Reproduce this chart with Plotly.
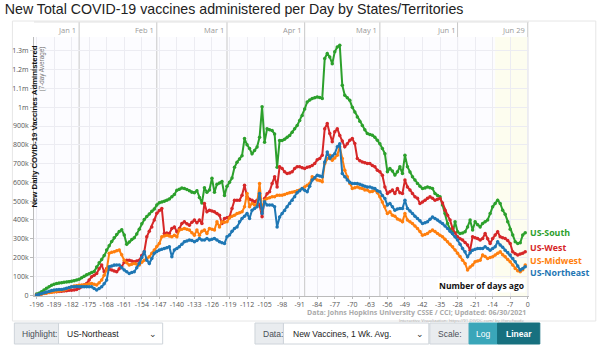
import plotly.graph_objects as go

# Days before the latest report (Jun 29, 2021)
days = list(range(-196, 1))

# 7-day average of new vaccine doses administered, thousands per day
us_south = [
    5, 10, 18, 27, 36, 44, 52,
    58, 62, 64, 66, 68, 70, 71,
    74, 76, 80, 84, 92, 100, 108,
    114, 120, 126, 150, 172, 190, 210,
    240, 262, 285, 305, 322, 338, 348,
    320, 270, 282, 296, 305, 325, 350,
    380, 402, 418, 432, 446, 458, 480,
    492, 496, 500, 505, 512, 524, 535,
    558, 564, 570, 568, 562, 555, 548,
    545, 556, 520, 490, 572, 548, 560,
    622, 548, 590, 596, 605, 530, 579,
    600, 623, 680, 707, 725, 742, 833,
    800, 780, 752, 770, 788, 840, 1002,
    814, 885, 880, 876, 858, 680, 823,
    823, 830, 840, 850, 867, 885, 903,
    930, 956, 990, 1028, 1038, 1046, 1050,
    1055, 1052, 1046, 1259, 1286, 1268, 1232,
    1295, 1321, 1330, 1117, 1064, 1050, 1037,
    1000, 975, 948, 925, 903, 880, 860,
    855, 851, 840, 824, 806, 780, 753,
    656, 674, 660, 639, 656, 683, 647,
    744, 683, 655, 630, 612, 594, 580,
    567, 570, 576, 572, 567, 541, 530,
    523, 480, 434, 381, 350, 328, 390,
    337, 328, 330, 337, 363, 399, 346,
    390, 375, 363, 381, 390, 400, 434,
    470, 488, 505, 488, 452, 430, 390,
    350, 320, 284, 275, 278, 320, 332,
]
us_west = [
    0, 3, 6, 9, 12, 14, 16,
    17, 18, 19, 20, 22, 23, 25,
    26, 27, 30, 36, 44, 53, 62,
    80, 98, 106, 115, 140, 160, 124,
    142, 138, 133, 128, 124, 140, 151,
    175, 186, 186, 182, 177, 182, 186,
    210, 231, 310, 340, 363, 400, 435,
    450, 461, 328, 330, 328, 354, 363,
    337, 354, 381, 390, 380, 372, 388,
    399, 385, 399, 381, 488, 443, 452,
    448, 443, 434, 425, 381, 408, 412,
    416, 461, 505, 505, 505, 532, 585,
    523, 510, 505, 497, 505, 479, 417,
    514, 540, 550, 594, 630, 576, 683,
    674, 656, 647, 650, 656, 674, 683,
    683, 678, 674, 680, 683, 690, 700,
    720, 727, 745, 886, 913, 860, 816,
    869, 886, 850, 820, 789, 805, 824,
    833, 807, 727, 715, 709, 705, 700,
    700, 690, 683, 665, 656, 638, 576,
    541, 550, 559, 541, 567, 545, 541,
    612, 576, 560, 541, 523, 515, 488,
    495, 505, 515, 523, 515, 505, 510,
    514, 490, 452, 425, 399, 355, 330,
    310, 300, 293, 280, 266, 239, 310,
    305, 301, 293, 301, 328, 300, 275,
    301, 320, 337, 310, 305, 301, 290,
    275, 230, 220, 213, 218, 222, 230,
]
us_midwest = [
    0, 2, 5, 8, 11, 13, 15,
    17, 19, 22, 25, 27, 32, 38,
    44, 48, 50, 52, 53, 54, 56,
    60, 62, 58, 53, 65, 80, 105,
    133, 222, 228, 231, 236, 240, 215,
    186, 172, 160, 164, 168, 164, 160,
    175, 186, 195, 204, 222, 240, 258,
    275, 310, 315, 319, 314, 310, 319,
    310, 346, 350, 354, 350, 346, 332,
    319, 346, 319, 340, 346, 328, 355,
    350, 346, 390, 363, 390, 388, 390,
    410, 420, 425, 434, 438, 443, 470,
    541, 470, 488, 479, 485, 594, 452,
    505, 514, 518, 523, 523, 532, 532,
    532, 535, 541, 545, 548, 550, 556,
    560, 567, 575, 585, 594, 630, 620,
    612, 610, 603, 700, 727, 745, 718,
    730, 745, 789, 727, 665, 630, 594,
    567, 572, 576, 570, 567, 560, 559,
    550, 552, 559, 545, 523, 495, 470,
    434, 443, 425, 420, 405, 399, 390,
    434, 399, 390, 381, 368, 355, 338,
    319, 322, 328, 338, 346, 338, 328,
    318, 310, 297, 284, 270, 257, 240,
    222, 205, 186, 168, 133, 150, 160,
    177, 182, 186, 213, 205, 195, 200,
    204, 213, 222, 230, 215, 204, 190,
    177, 160, 142, 130, 124, 135, 160,
]
us_northeast = [
    0, 4, 8, 12, 16, 20, 24,
    27, 28, 29, 30, 32, 36, 40,
    44, 44, 45, 44, 44, 44, 44,
    44, 44, 35, 27, 35, 44, 60,
    80, 151, 155, 160, 160, 160, 145,
    133, 124, 115, 120, 124, 145, 168,
    200, 231, 186, 168, 195, 222, 232,
    240, 244, 248, 252, 257, 204, 240,
    248, 257, 270, 284, 288, 293, 290,
    284, 290, 301, 293, 293, 301, 293,
    297, 301, 293, 284, 278, 275, 310,
    320, 340, 355, 363, 390, 408, 420,
    434, 408, 452, 461, 470, 541, 434,
    497, 479, 479, 479, 470, 363, 416,
    434, 450, 470, 488, 505, 523, 545,
    556, 567, 558, 550, 580, 612, 625,
    638, 634, 630, 709, 762, 727, 740,
    753, 789, 806, 647, 630, 612, 600,
    594, 594, 594, 590, 585, 580, 576,
    576, 570, 567, 555, 550, 530, 514,
    479, 488, 470, 452, 458, 461, 461,
    505, 461, 448, 434, 420, 408, 395,
    381, 385, 390, 403, 416, 408, 399,
    390, 381, 368, 355, 340, 328, 310,
    293, 270, 248, 230, 204, 225, 239,
    244, 248, 248, 248, 257, 248, 239,
    248, 257, 284, 266, 255, 239, 226,
    213, 195, 177, 155, 133, 142, 151,
]

regions = ["US-South", "US-West", "US-Midwest", "US-Northeast"]
series = [us_south, us_west, us_midwest, us_northeast]
colors = ["#2ca02c", "#d62728", "#ff7f0e", "#1f77b4"]
# vertical nudges (px) that keep the end labels from colliding
label_shift = [0, 3.5, 4.5, -6.5]

# Month boundaries as days-ago offsets, with their labels on the top band
month_days = [-179, -148, -120, -89, -59, -28, 0]
month_labels = ["Jan 1", "Feb 1", "Mar 1", "Apr 1", "May 1", "Jun 1", "Jun 29"]

y_ticks = [i * 100 for i in range(14)]
y_tick_text = ["0"] + [f"{v}k" for v in range(100, 1000, 100)] + ["1m", "1.1m", "1.2m", "1.3m"]
x_ticks = list(range(-196, 1, 7))

TICK_FONT = "Open Sans"

# pixel helpers for paper coordinates (plot area: x 25..529, y 37..296)
def px(x):
    return (x - 25) / 504

def py(y):
    return (296 - y) / 259

fig = go.Figure()

for name, vals, col, dy in zip(regions, series, colors, label_shift):
    fig.add_trace(go.Scatter(
        x=days, y=vals, name=name, mode="lines+markers",
        line=dict(color=col, width=2),
        marker=dict(color=col, size=3.5),
        hoverinfo="skip",
    ))
    fig.add_annotation(
        x=days[-1], y=vals[-1], xref="x", yref="y",
        text=f"<b>{name}</b>", showarrow=False, borderpad=0,
        xanchor="left", yanchor="middle", xshift=1, yshift=dy,
        font=dict(family="Open Sans", size=8.8, color=col),
    )

shapes = []
# outer frame of the chart panel
shapes.append(dict(type="rect", xref="paper", yref="paper", x0=px(3), x1=px(597),
                   y0=py(321), y1=py(21), line=dict(color="#e6e6e6", width=1),
                   fillcolor="rgba(0,0,0,0)", layer="below"))
# recent-days highlight band
shapes.append(dict(type="rect", xref="x", yref="paper", x0=-13, x1=0, y0=0, y1=1,
                   fillcolor="rgba(255,255,210,0.35)", line_width=0, layer="below"))
# month separators, running up through the date band
for d in month_days:
    shapes.append(dict(type="line", xref="x", yref="paper", x0=d, x1=d, y0=0, y1=py(22),
                       line=dict(color="#c8c8c8", width=1), layer="below"))
# date band above the plot
shapes.append(dict(type="line", xref="paper", yref="paper", x0=0, x1=1, y0=py(22), y1=py(22),
                   line=dict(color="#e2e2e2", width=1)))

for d, lab in zip(month_days, month_labels):
    fig.add_annotation(x=d, y=py(30), xref="x", yref="paper", text=lab, showarrow=False,
                       xanchor="right", yanchor="middle", xshift=-1,
                       font=dict(family=TICK_FONT, size=7.5, color="#999"))

# axis titles drawn inside the plot
fig.add_annotation(x=px(19), y=py(44), xref="paper", yref="paper",
                   text="<b>New Daily COVID-19 Vaccines Administered</b>",
                   textangle=-90, showarrow=False, xanchor="left", yanchor="top",
                   font=dict(family="Liberation Sans", size=7.8, color="#111"))
fig.add_annotation(x=px(28), y=py(44), xref="paper", yref="paper",
                   text="(7-day Average)",
                   textangle=-90, showarrow=False, xanchor="left", yanchor="top",
                   font=dict(family="Liberation Sans", size=6.3, color="#777"))
fig.add_annotation(x=px(526), y=py(293), xref="paper", yref="paper",
                   text="<b>Number of days ago</b>", showarrow=False,
                   xanchor="right", yanchor="bottom", bgcolor="white",
                   font=dict(family="Open Sans", size=8.5, color="#111"))

fig.update_layout(
    title=dict(text="New Total COVID-19 vaccines administered per Day by States/Territories",
               x=0.008, xanchor="left", y=0.975, yanchor="middle",
               font=dict(family="Liberation Sans", size=14.2, color="#222")),
)
# credits under the axis
fig.add_annotation(x=px(527), y=py(312.5), xref="paper", yref="paper", showarrow=False,
                   text="<b>Data: Johns Hopkins University CSSE / CCI; Updated: 06/30/2021</b>",
                   xanchor="right", yanchor="middle", borderpad=0,
                   font=dict(family="Open Sans", size=7, color="#aaa"))
fig.add_annotation(x=px(527), y=py(319.5), xref="paper", yref="paper", showarrow=False,
                   text="Interactive Visualization: https://91-DIVOC.com/ by @profwade_",
                   xanchor="right", yanchor="middle", borderpad=0,
                   font=dict(family="Open Sans", size=4.3, color="#aaa"))

fig.update_xaxes(range=[-197, 0.5], tickvals=x_ticks, ticktext=[str(v) for v in x_ticks],
                 showgrid=True, gridcolor="#ececf2", gridwidth=1, zeroline=False,
                 showline=True, linecolor="#bbb", ticks="outside", ticklen=2, tickcolor="#bbb",
                 tickfont=dict(family=TICK_FONT, size=7, color="#555"))
fig.update_yaxes(range=[-5, 1374], tickvals=y_ticks, ticktext=y_tick_text,
                 showgrid=True, gridcolor="#ececf2", gridwidth=1, zeroline=False,
                 showline=True, linecolor="#bbb", ticks="outside", ticklen=3, tickcolor="#bbb",
                 tickfont=dict(family=TICK_FONT, size=7, color="#555"))

fig.update_layout(
    width=600, height=345, autosize=False,
    margin=dict(l=25, r=71, t=37, b=49),
    paper_bgcolor="white", plot_bgcolor="#fcfcff",
    showlegend=False,
)

# control bar under the chart
def box(x0, x1, y0, y1, fill, line="#ced4da"):
    shapes.append(dict(type="rect", xref="paper", yref="paper",
                       x0=px(x0), x1=px(x1), y0=py(y1), y1=py(y0),
                       fillcolor=fill, line=dict(color=line, width=1), layer="above"))
box(5, 50, 323, 344, "#e9ecef")
box(50, 156, 323, 344, "white")
box(250, 279, 323, 344, "#e9ecef")
box(279, 427, 323, 344, "white")
box(428, 468, 323, 344, "#e9ecef")
box(468, 497, 323, 344, "#3aa6b9", "#3aa6b9")
box(497, 540, 323, 344, "#17707f", "#17707f")
fig.update_layout(shapes=shapes)

def label(x, y, text, anchor="left", color="#495057", size=8.5):
    fig.add_annotation(x=px(x), y=py(y), xref="paper", yref="paper",
                       text=text, showarrow=False,
                       xanchor=anchor, yanchor="middle",
                       font=dict(family="Liberation Sans", size=size, color=color))
label(11, 333.5, "Highlight:")
label(57, 333.5, "US-Northeast", color="#222")
label(152, 333.5, "⌄", anchor="right", color="#333")
label(256, 333.5, "Data:")
label(287, 333.5, "New Vaccines, 1 Wk. Avg.", color="#222")
label(424, 333.5, "⌄", anchor="right", color="#333")
label(434, 333.5, "Scale:")
label(482.5, 333.5, "Log", anchor="center", color="white")
label(518.5, 333.5, "<b>Linear</b>", anchor="center", color="white")

fig.write_html("out.html")
